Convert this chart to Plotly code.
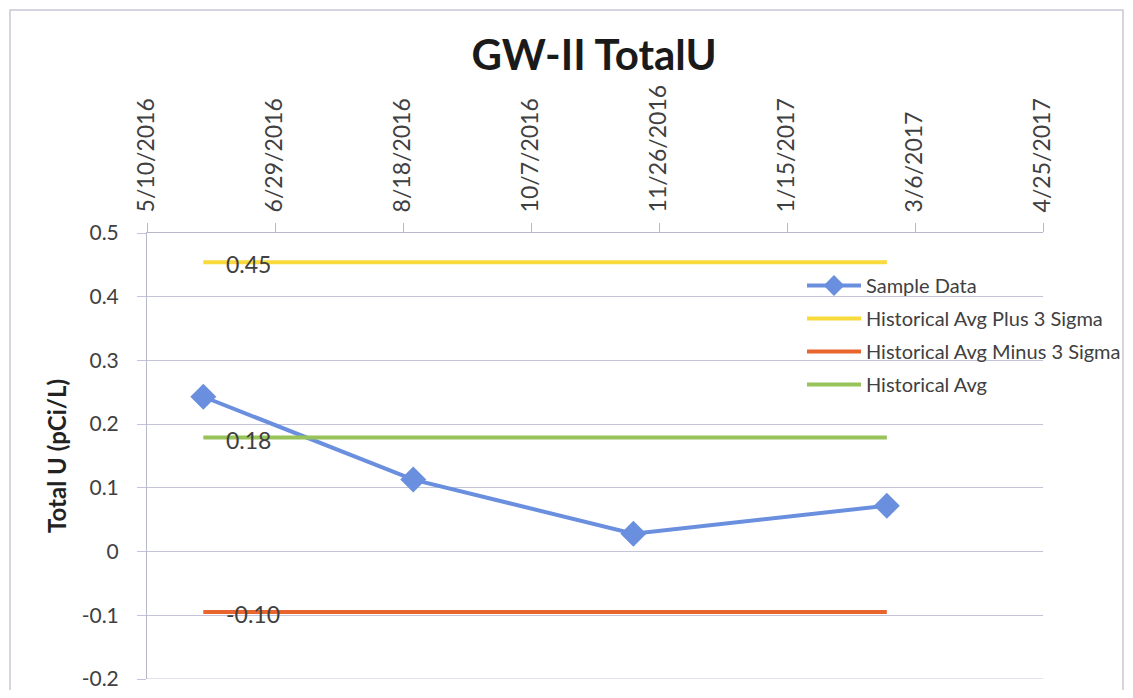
import plotly.graph_objects as go

# sample results
sample_dates = ["2016-06-01", "2016-08-22", "2016-11-16", "2017-02-23"]
sample_values = [0.243, 0.113, 0.028, 0.072]

# historical limits, drawn across the sampling period
hist_dates = ["2016-06-01", "2017-02-23"]
avg_plus_3sigma = [0.454, 0.454]
avg_minus_3sigma = [-0.095, -0.095]
hist_avg = [0.179, 0.179]

x_tickvals = ["2016-05-10", "2016-06-29", "2016-08-18", "2016-10-07",
              "2016-11-26", "2017-01-15", "2017-03-06", "2017-04-25"]
x_ticktext = ["5/10/2016", "6/29/2016", "8/18/2016", "10/7/2016",
              "11/26/2016", "1/15/2017", "3/6/2017", "4/25/2017"]
y_tickvals = [-0.2, -0.1, 0, 0.1, 0.2, 0.3, 0.4, 0.5]
y_ticktext = ["-0.2", "-0.1", "0", "0.1", "0.2", "0.3", "0.4", "0.5"]

# page is drawn with an 8px body margin, plot area wanted at 147..1043 x 233..679
W, H = 1117, 682
PL, PR, PT, PB = 147, 1043, 233, 679


def px_x(x):
    return (x - PL) / (PR - PL)


def px_y(y):
    return 1 - (y - PT) / (PB - PT)


fig = go.Figure()

fig.add_trace(go.Scatter(
    x=sample_dates, y=sample_values, name="Sample Data",
    legendgroup="a", mode="lines+markers",
    line=dict(color="#6A8FDF", width=4),
    marker=dict(symbol="diamond", size=20, color="#6A8FDF"),
))
fig.add_trace(go.Scatter(
    x=hist_dates, y=avg_plus_3sigma, name="Historical Avg Plus 3 Sigma",
    legendgroup="b", mode="lines", line=dict(color="#F8DA3C", width=4),
))
fig.add_trace(go.Scatter(
    x=hist_dates, y=avg_minus_3sigma, name="Historical Avg Minus 3 Sigma",
    legendgroup="c", mode="lines", line=dict(color="#E8652E", width=4),
))
fig.add_trace(go.Scatter(
    x=hist_dates, y=hist_avg, name="Historical Avg",
    legendgroup="d", mode="lines", line=dict(color="#98C35A", width=4),
))

# value labels at the start of each limit line
for series in (avg_plus_3sigma, hist_avg, avg_minus_3sigma):
    fig.add_annotation(
        x=hist_dates[0], y=series[0], text=f"{series[0]:.2f}",
        showarrow=False, xanchor="left", xshift=21, yshift=-2,
        font=dict(size=23, color="#404040", family="Lato"),
    )

# bottom gridline at -0.2 (plotly drops the one on the range edge)
fig.add_shape(
    type="line", xref="paper", yref="y", x0=0, x1=1, y0=-0.2, y1=-0.2,
    line=dict(color="#C4C4D8", width=1),
)

# outer chart border
fig.add_shape(
    type="rect", xref="paper", yref="paper",
    x0=px_x(10), x1=px_x(1123), y0=px_y(705), y1=px_y(10),
    line=dict(color="#C8C8D8", width=1.5),
)

fig.update_layout(
    width=W, height=H,
    margin=dict(l=PL - 8, r=W - (PR - 8), t=PT - 8, b=H - (PB - 8),
                autoexpand=False),
    paper_bgcolor="white", plot_bgcolor="white",
    font_family="Lato",
    title=dict(
        text="<b>GW-II TotalU</b>", x=px_x(594), xanchor="center",
        xref="paper", y=1 - 47 / H, yanchor="middle",
        font=dict(size=42, color="#1a1a1a", family="Lato"),
    ),
    showlegend=True,
    legend=dict(
        x=px_x(802), y=px_y(266), xanchor="left", yanchor="top",
        bgcolor="rgba(0,0,0,0)", traceorder="grouped", tracegroupgap=4,
        itemwidth=54,
        font=dict(size=20, color="#404040", family="Lato"),
    ),
    xaxis=dict(
        type="date", side="top",
        range=["2016-05-10", "2017-04-25"],
        tickvals=x_tickvals, ticktext=x_ticktext, tickangle=-90,
        tickfont=dict(size=23, color="#404040", family="Lato"),
        ticklabelstandoff=6, automargin=False,
        showgrid=False, showline=True, linecolor="#B8B8CC",
        ticks="outside", ticklen=9, tickcolor="#B8B8CC",
        zeroline=False,
    ),
    yaxis=dict(
        range=[-0.2, 0.5], tickvals=y_tickvals, ticktext=y_ticktext,
        tickfont=dict(size=21, color="#404040", family="Lato"),
        ticklabelstandoff=14, ticklabeloverflow="allow", automargin=False,
        title=dict(text="<b>Total U (pCi/L)</b>", standoff=8,
                   font=dict(size=24, color="#222222", family="Lato")),
        showgrid=True, gridcolor="#C4C4D8", gridwidth=1,
        showline=True, linecolor="#B8B8CC",
        ticks="outside", ticklen=9, tickcolor="#C4C4D8",
        zeroline=False,
    ),
)

fig.write_html("out.html")
